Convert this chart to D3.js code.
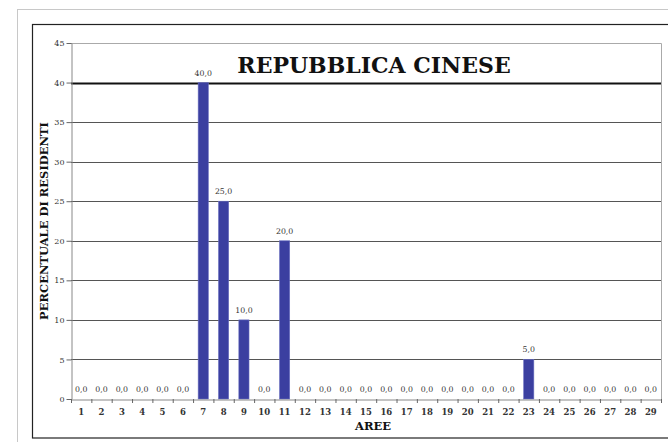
<!DOCTYPE html>
<html><head><meta charset="utf-8">
<script src="https://cdn.jsdelivr.net/npm/d3@7"></script>
<style>html,body{margin:0;padding:0;background:#fff;}svg{display:block;}</style>
</head><body>
<svg id="c" width="668" height="442"></svg>
<script>
const areas = ["1","2","3","4","5","6","7","8","9","10","11","12","13","14","15","16","17","18","19","20","21","22","23","24","25","26","27","28","29"];
const values = [0,0,0,0,0,0,40,25,10,0,20,0,0,0,0,0,0,0,0,0,0,0,5,0,0,0,0,0,0];
const yTicks = [0,5,10,15,20,25,30,35,40,45];
const title = "REPUBBLICA CINESE";
const xTitle = "AREE";
const yTitle = "PERCENTUALE DI RESIDENTI";

const svg = d3.select("#c");
const serif = "'DejaVu Serif','Liberation Serif',serif";
const L = 71, R = 661, T = 43, B = 399;

// frames
svg.append("rect").attr("x",17.5).attr("y",9.5).attr("width",700).attr("height",460)
  .attr("fill","none").attr("stroke","#c8c8c8").attr("stroke-width",1);
svg.append("rect").attr("x",32.5).attr("y",24.5).attr("width",700).attr("height",413.5)
  .attr("fill","none").attr("stroke","#222").attr("stroke-width",1.2);

const x = d3.scaleBand().domain(areas).range([L,R]).paddingInner(0.5).paddingOuter(0.25);
const y = d3.scaleLinear().domain([0,45]).range([B,T]);

// gridlines
svg.append("g").selectAll("line").data(yTicks.filter(v=>v>0 && v<45)).join("line")
  .attr("x1",L).attr("x2",R).attr("y1",d=>Math.round(y(d))+0.5).attr("y2",d=>Math.round(y(d))+0.5)
  .attr("stroke",d=>d===40?"#111":"#555").attr("stroke-width",d=>d===40?1.8:1);
// plot border top/right
svg.append("path").attr("d",`M${L},${T+0.5}H${R+0.5}V${B}`).attr("fill","none").attr("stroke","#aaa");

// y axis
const yAxis = d3.axisLeft(y).tickValues(yTicks).tickSize(5).tickSizeOuter(0).tickFormat(d3.format("d"));
const gy = svg.append("g").attr("transform",`translate(${L+0.5},0)`).call(yAxis);
gy.select(".domain").attr("stroke","#888");
gy.selectAll(".tick line").attr("stroke","#666");
gy.selectAll("text").attr("font-family",serif).attr("font-size",8).attr("fill","#333").attr("x",-7);

// bars
svg.append("g").selectAll("rect").data(values).join("rect")
  .attr("x",(d,i)=>x(areas[i])).attr("width",x.bandwidth())
  .attr("y",d=>y(d)).attr("height",d=>y(0)-y(d))
  .attr("fill","#3b3fa0").attr("stroke","#6a6ec0").attr("stroke-width",0.6);

// value labels
svg.append("g").selectAll("text").data(values).join("text")
  .attr("x",(d,i)=>x(areas[i])+x.bandwidth()/2).attr("y",d=>y(d)-7)
  .attr("text-anchor","middle").attr("font-family",serif).attr("font-size",7.8).attr("fill","#333")
  .text(d=>d3.format(".1f")(d).replace(".",","));

// x axis
const xAxis = d3.axisBottom(x).tickSize(0).tickPadding(9);
const gx = svg.append("g").attr("transform",`translate(0,${B+0.5})`).call(xAxis);
gx.select(".domain").attr("stroke","#888");
gx.selectAll("text").attr("font-family",serif).attr("font-size",8.5).attr("font-weight","bold").attr("fill","#333");
// tick marks at band boundaries
svg.append("g").selectAll("line").data(areas.concat(["end"])).join("line")
  .attr("x1",(d,i)=>L+0.5+i*(R-L)/areas.length).attr("x2",(d,i)=>L+0.5+i*(R-L)/areas.length)
  .attr("y1",B).attr("y2",B+4).attr("stroke","#666");

// titles
svg.append("text").attr("x",374).attr("y",73).attr("text-anchor","middle")
  .attr("font-family",serif).attr("font-weight","bold").attr("font-size",22).attr("fill","#111").text(title);
svg.append("text").attr("x",373).attr("y",430).attr("text-anchor","middle")
  .attr("font-family",serif).attr("font-weight","bold").attr("font-size",11.5).attr("fill","#111").text(xTitle);
svg.append("text").attr("transform","translate(48,221) rotate(-90)").attr("text-anchor","middle")
  .attr("font-family",serif).attr("font-weight","bold").attr("font-size",11.5).attr("fill","#111").text(yTitle);
</script>
</body></html>
